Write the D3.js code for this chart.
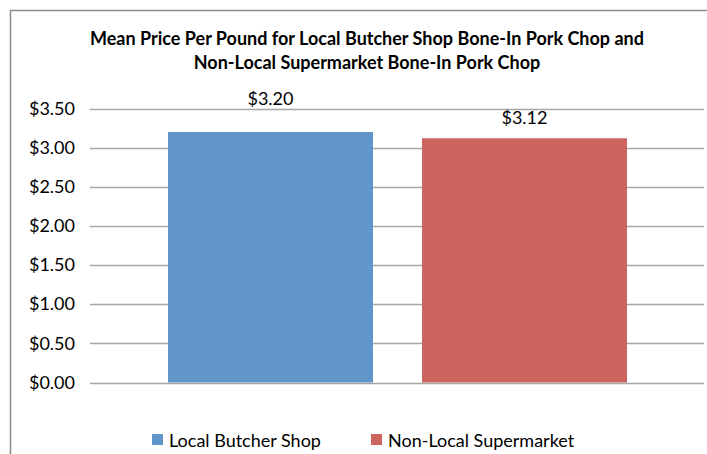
<!DOCTYPE html>
<html><head><meta charset="utf-8">
<script src="https://cdn.jsdelivr.net/npm/d3@7"></script>
<style>body{margin:0;background:#fff}svg{display:block}text{font-family:Lato,"Open Sans",sans-serif;fill:#000}</style>
</head><body>
<svg id="c" width="707" height="454"></svg>
<script>
(function(){
const titleLines = ["Mean Price Per Pound for Local Butcher Shop Bone-In Pork Chop and","Non-Local Supermarket Bone-In Pork Chop"];
const series = ["Local Butcher Shop","Non-Local Supermarket"];
const values = [3.20, 3.12];
const valueLabels = ["$3.20","$3.12"];
const colors = ["#6096CA","#CC6560"];
const yTicks = [0,0.5,1,1.5,2,2.5,3,3.5];

const svg = d3.select("#c");
svg.append("rect").attr("x",10.5).attr("y",10.5).attr("width",720).attr("height",460)
  .attr("fill","#fff").attr("stroke","#8c8c8c").attr("stroke-width",1.5);

const pLeft=90, pRight=704, pTop=108.5, pBottom=382.5;
const y = d3.scaleLinear().domain([0,3.5]).range([pBottom,pTop]);
const x = d3.scaleBand().domain(series).range([168,627]).paddingInner(0.193).paddingOuter(0);

svg.append("g").selectAll("line").data(yTicks).join("line")
  .attr("x1",pLeft).attr("x2",pRight).attr("y1",d=>Math.round(y(d))+0.5).attr("y2",d=>Math.round(y(d))+0.5)
  .attr("stroke","#a6a6a6").attr("stroke-width",1.3);

const yAxis = d3.axisLeft(y).tickValues(yTicks).tickFormat(d=>"$"+d.toFixed(2)).tickSize(0).tickPadding(0);
const ga = svg.append("g").attr("transform",`translate(${pLeft-15},0)`).call(yAxis);
ga.select(".domain").remove();
ga.selectAll("text").attr("font-size",18).attr("font-family","Lato,sans-serif").attr("fill","#000");

svg.append("g").selectAll("rect").data(series).join("rect")
  .attr("x",d=>x(d)).attr("width",x.bandwidth())
  .attr("y",(d,i)=>y(values[i])).attr("height",(d,i)=>pBottom-y(values[i]))
  .attr("fill",(d,i)=>colors[i]);

const labelGap=[27,14];
svg.append("g").selectAll("text").data(series).join("text")
  .attr("x",d=>x(d)+x.bandwidth()/2).attr("y",(d,i)=>y(values[i])-labelGap[i])
  .attr("text-anchor","middle").attr("font-size",18).text((d,i)=>valueLabels[i]);

svg.append("g").selectAll("text").data(titleLines).join("text")
  .attr("x",367).attr("y",(d,i)=>45+i*24).attr("text-anchor","middle")
  .attr("font-size",18).attr("font-weight","bold").text(d=>d);

const legX=[152,371];
const lg = svg.append("g").selectAll("g").data(series).join("g")
  .attr("transform",(d,i)=>`translate(${legX[i]},434)`);
lg.append("rect").attr("width",11).attr("height",11).attr("fill",(d,i)=>colors[i]);
lg.append("text").attr("x",17).attr("y",12.5).attr("font-size",18).text(d=>d);
})();
</script>
</body></html>
